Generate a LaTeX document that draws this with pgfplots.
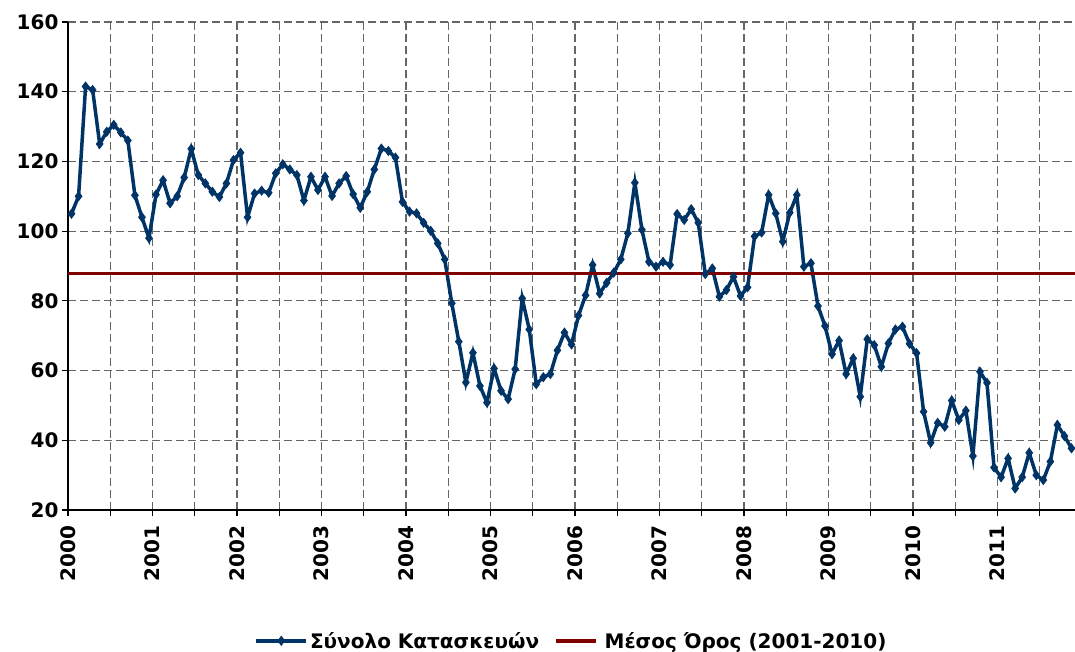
\documentclass[border=0pt]{standalone}
\usepackage{fontspec}
\setmainfont{DejaVu Sans}
\usepackage{pgfplots}
\usepackage{pgfplotstable}
\pgfplotsset{compat=1.18}

\definecolor{navy}{RGB}{0,51,102}
\definecolor{avgred}{RGB}{128,0,0}

\pgfplotsset{
  bluelegend/.style={legend image code/.code={%
    \draw[mark repeat=2, mark phase=2, ##1]
      plot coordinates {(0pt,0pt) (25pt,0pt) (50pt,0pt)};}},
  redlegend/.style={legend image code/.code={%
    \draw[##1] (0pt,0pt) -- (40pt,0pt);}},
}

% month index + 0.5, value
\pgfplotstableread{
x y
0.5 105
1.5 110
2.5 141.5
3.5 140.5
4.5 125
5.5 128.5
6.5 130.5
7.5 128.3
8.5 126
9.5 110.3
10.5 104
11.5 98
12.5 110.5
13.5 114.6
14.5 108
15.5 110
16.5 115.4
17.5 123.6
18.5 116.1
19.5 113.7
20.5 111.3
21.5 109.8
22.5 113.7
23.5 120.4
24.5 122.5
25.5 104
26.5 110.8
27.5 111.6
28.5 111
29.5 116.6
30.5 119.2
31.5 117.7
32.5 116.1
33.5 108.8
34.5 115.6
35.5 111.8
36.5 115.6
37.5 110.1
38.5 113.7
39.5 115.8
40.5 110.6
41.5 106.7
42.5 111.3
43.5 117.7
44.5 123.7
45.5 123
46.5 121.1
47.5 108.4
48.5 105.6
49.5 105.1
50.5 102.4
51.5 100.1
52.5 96.5
53.5 91.9
54.5 79.3
55.5 68.3
56.5 56.6
57.5 65.1
58.5 55.6
59.5 50.8
60.5 60.6
61.5 54.2
62.5 51.8
63.5 60.4
64.5 80.7
65.5 71.8
66.5 56.1
67.5 58.1
68.5 59
69.5 65.8
70.5 70.9
71.5 67.5
72.5 75.8
73.5 81.6
74.5 90.3
75.5 82.1
76.5 85.2
77.5 88.1
78.5 91.9
79.5 99.4
80.5 113.9
81.5 100.4
82.5 91.2
83.5 89.8
84.5 91.2
85.5 90.3
86.5 104.9
87.5 103.2
88.5 106.3
89.5 102.4
90.5 87.7
91.5 89.3
92.5 81.2
93.5 83.1
94.5 86.9
95.5 81.4
96.5 83.9
97.5 98.5
98.5 99.6
99.5 110.4
100.5 105.1
101.5 97
102.5 105.3
103.5 110.4
104.5 89.8
105.5 90.8
106.5 78.5
107.5 72.8
108.5 64.7
109.5 68.6
110.5 59
111.5 63.5
112.5 52.5
113.5 69
114.5 67.3
115.5 61.1
116.5 67.8
117.5 71.8
118.5 72.6
119.5 67.7
120.5 65
121.5 48.2
122.5 39.3
123.5 45
124.5 43.9
125.5 51.4
126.5 45.8
127.5 48.5
128.5 35.5
129.5 59.7
130.5 56.5
131.5 32.2
132.5 29.4
133.5 34.8
134.5 26.2
135.5 29.4
136.5 36.4
137.5 30
138.5 28.6
139.5 33.9
140.5 44.4
141.5 41.2
142.5 37.7
}\construction

\begin{document}
\begin{tikzpicture}
\begin{axis}[
  name=ax,
  scale only axis,
  width=1007pt, height=488pt,
  xmin=0, xmax=143, ymin=20, ymax=160,
  axis x line*=bottom, axis y line*=left,
  axis line style={-, black, line width=1.3pt},
  ytick={20,40,...,160},
  xtick={0,12,...,132},
  xticklabels={2000,2001,2002,2003,2004,2005,2006,2007,2008,2009,2010,2011},
  minor xtick={6,18,...,138},
  grid=both,
  major grid style={black!60, line width=1.1pt, dash pattern=on 8pt off 4pt},
  minor grid style={black!60, line width=1.1pt, dash pattern=on 8pt off 4pt},
  tick align=outside,
  major tick length=6pt, minor tick length=6pt,
  tick style={black, line width=1.2pt},
  /pgf/number format/assume math mode=true,
  ticklabel style={font=\bfseries\fontsize{20}{22}\selectfont},
  xticklabel style={rotate=90, anchor=east},
  xticklabel shift=6pt,
  legend columns=2,
  legend style={at={(0.5,-0.268)}, anchor=center, draw=none,
    font=\bfseries\fontsize{20}{23}\selectfont,
    /tikz/every odd column/.append style={column sep=0pt},
    /tikz/every even column/.append style={column sep=13pt}},
]
\addplot[navy, line width=3.5pt, mark=diamond*, mark size=4.5pt,
  mark options={solid, line width=0.8pt}, bluelegend]
  table {\construction};
\addlegendentry{Σύνολο Κατασκευών}
\addplot[avgred, line width=3.5pt, redlegend]
  coordinates {(0,87.9) (143,87.9)};
\addlegendentry{\hspace{5pt}Μέσος Όρος (2001-2010)}
\end{axis}
\pgfresetboundingbox
\path[use as bounding box] ([shift={(-68pt,-142pt)}]ax.south west)
  rectangle ([shift={(1007pt,510pt)}]ax.south west);
\end{tikzpicture}
\end{document}
